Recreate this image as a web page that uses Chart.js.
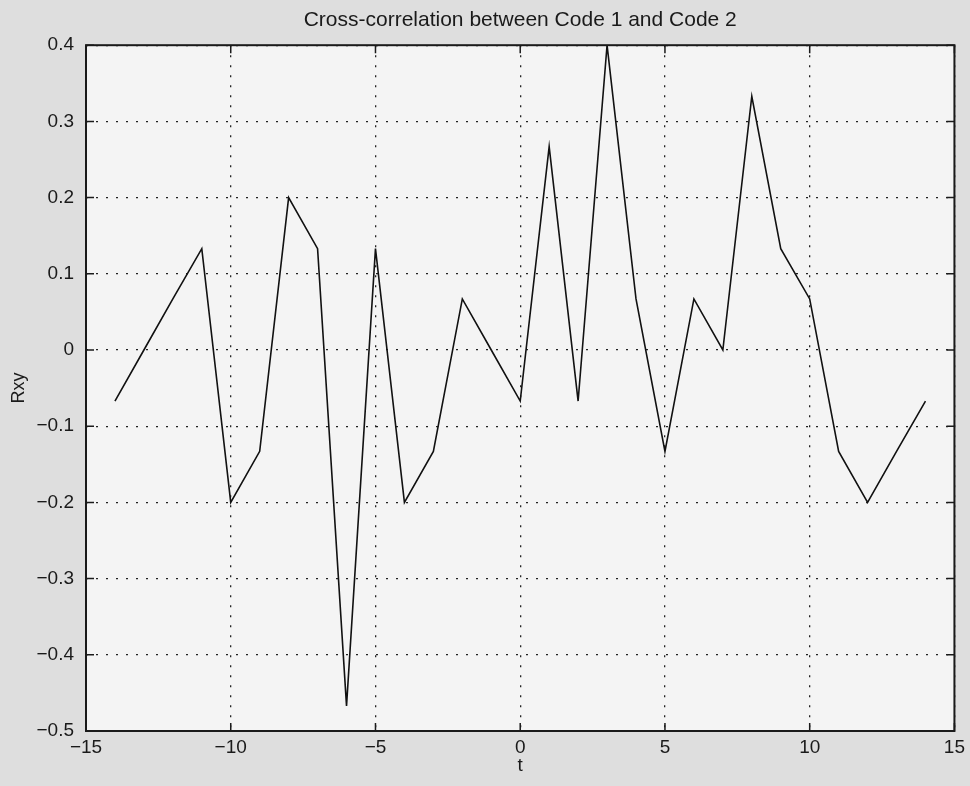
<!DOCTYPE html>
<html>
<head>
<meta charset="utf-8">
<title>Cross-correlation between Code 1 and Code 2</title>
<script src="https://cdn.jsdelivr.net/npm/chart.js@4"></script>
<style>
  html, body { margin: 0; padding: 0; background: #dedede; }
  #wrap { width: 970px; height: 786px; }
</style>
</head>
<body>
<div id="wrap"><canvas id="xcorrChart" width="970" height="786"></canvas></div>
<script>
// lags and normalised cross-correlation values
const lags = [-14, -13, -12, -11, -10, -9, -8, -7, -6, -5, -4, -3, -2, -1, 0,
  1, 2, 3, 4, 5, 6, 7, 8, 9, 10, 11, 12, 13, 14];
const rxy = [-0.067, 0, 0.067, 0.133, -0.2, -0.133, 0.2, 0.133, -0.467, 0.133,
  -0.2, -0.133, 0.067, 0, -0.067, 0.267, -0.067, 0.4, 0.067, -0.133,
  0.067, 0, 0.333, 0.133, 0.067, -0.133, -0.2, -0.133, -0.067];
const xTicks = [-15, -10, -5, 0, 5, 10, 15];
const yTicks = [-0.5, -0.4, -0.3, -0.2, -0.1, 0, 0.1, 0.2, 0.3, 0.4];

const FONT = "'Liberation Sans', Arial, Helvetica, sans-serif";
const minus = v => String(v).replace("-", "\u2212");

// grey page + lighter axes box, solid frame, inward tick marks
const matlabFrame = {
  id: "matlabFrame",
  beforeDraw(chart) {
    const { ctx, chartArea: a } = chart;
    ctx.save();
    ctx.fillStyle = "#dedede";
    ctx.fillRect(0, 0, chart.width, chart.height);
    ctx.fillStyle = "#f4f4f4";
    ctx.fillRect(a.left, a.top, a.right - a.left, a.bottom - a.top);
    ctx.restore();
  },
  afterDraw(chart) {
    const { ctx, chartArea: a, scales } = chart;
    ctx.save();
    ctx.strokeStyle = "#1a1a1a";
    ctx.lineWidth = 1.5;
    ctx.beginPath();
    xTicks.forEach(v => {
      const x = scales.x.getPixelForValue(v);
      ctx.moveTo(x, a.bottom); ctx.lineTo(x, a.bottom - 8);
      ctx.moveTo(x, a.top); ctx.lineTo(x, a.top + 8);
    });
    yTicks.forEach(v => {
      const y = scales.y.getPixelForValue(v);
      ctx.moveTo(a.left, y); ctx.lineTo(a.left + 8, y);
      ctx.moveTo(a.right, y); ctx.lineTo(a.right - 8, y);
    });
    ctx.stroke();
    ctx.lineWidth = 2;
    ctx.strokeRect(a.left, a.top, a.right - a.left, a.bottom - a.top);
    ctx.restore();
  }
};

const ctx = document.getElementById("xcorrChart").getContext("2d");
const xcorrChart = new Chart(ctx, {
  type: "line",
  data: {
    datasets: [{
      label: "Rxy",
      data: lags.map((t, i) => ({ x: t, y: rxy[i] })),
      borderColor: "#111",
      borderWidth: 1.6,
      pointRadius: 0,
      tension: 0,
      fill: false
    }]
  },
  plugins: [matlabFrame],
  options: {
    responsive: false,
    animation: false,
    layout: { padding: { left: 0, right: 13, top: 0, bottom: 0 } },
    plugins: {
      legend: { display: false },
      tooltip: { enabled: false },
      title: {
        display: true,
        fullSize: false,
        text: "Cross-correlation between Code 1 and Code 2",
        color: "#1a1a1a",
        font: { family: FONT, size: 21, weight: "normal", lineHeight: 1.2 },
        padding: { top: 8, bottom: 12 }
      }
    },
    scales: {
      x: {
        type: "linear",
        min: -15,
        max: 15,
        afterFit: s => { s.height = 55; },
        afterBuildTicks: s => { s.ticks = xTicks.map(v => ({ value: v })); },
        ticks: {
          color: "#1a1a1a",
          padding: 5,
          maxRotation: 0,
          font: { family: FONT, size: 19 },
          callback: v => minus(v)
        },
        grid: { color: "#222", lineWidth: 1.3, drawTicks: false },
        border: { display: false, dash: [2, 8] },
        title: {
          display: true,
          text: "t",
          color: "#1a1a1a",
          font: { family: FONT, size: 19 },
          padding: { top: 0, bottom: 9 }
        }
      },
      y: {
        min: -0.5,
        max: 0.4,
        afterFit: s => { s.width = 86; },
        afterBuildTicks: s => { s.ticks = yTicks.map(v => ({ value: v })); },
        ticks: {
          color: "#1a1a1a",
          padding: 12,
          font: { family: FONT, size: 19 },
          callback: v => minus(Math.round(v * 10) / 10)
        },
        grid: { color: "#222", lineWidth: 1.3, drawTicks: false },
        border: { display: false, dash: [2, 8] },
        title: {
          display: true,
          text: "Rxy",
          color: "#1a1a1a",
          font: { family: FONT, size: 18 },
          padding: { top: 8, bottom: 0 }
        }
      }
    }
  }
});
</script>
</body>
</html>
